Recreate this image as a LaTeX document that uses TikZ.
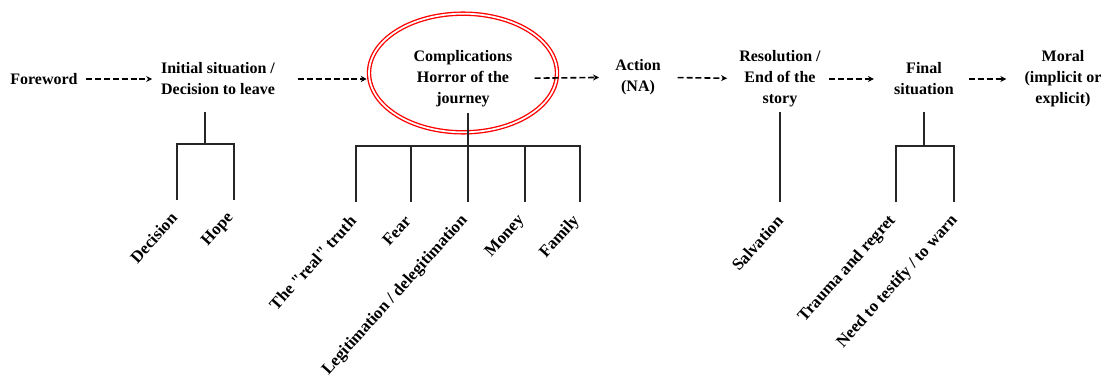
\documentclass[tikz,border=0pt]{standalone}
\usepackage{fontspec}
\setmainfont{Liberation Serif}
\usetikzlibrary{shapes.geometric, arrows.meta}

\begin{document}
\begin{tikzpicture}[x=0.75pt, y=-0.75pt,
        stage/.style={align=center, inner sep=0pt, font=\fontsize{12}{15.75}\selectfont\bfseries},
        leaf/.style={anchor=east, rotate=48, inner sep=0pt, font=\fontsize{12.6}{14}\selectfont\bfseries},
        ring/.style={ellipse, draw=red, double=white, double distance=1.3pt, line width=1pt, minimum width=141pt, minimum height=89pt},
        flow/.style={-{Stealth[length=4.5pt, width=4.5pt]}, dash pattern=on 4.5pt off 2.2pt, line width=1.2pt},
        branch/.style={line width=1.1pt, draw=black!85}]

    \useasboundingbox (0,0) rectangle (1117,385);

    % story stages
    \node (foreword) [stage] at (44,79) {Foreword};
    \node (initial) [stage] at (218,79) {Initial situation /\\ Decision to leave};
    \node (ring) [ring] at (463,73) {};
    \node (compl) [stage] at (463,79) {Complications\\ Horror of the\\ journey};
    \node (action) [stage] at (638,77) {Action\\ (NA)};
    \node (resol) [stage] at (780,79) {Resolution /\\ End of the\\ story};
    \node (final) [stage] at (924,79) {Final\\ situation};
    \node (moral) [stage] at (1063,79) {Moral\\ (implicit or\\ explicit)};

    \draw [flow, shorten <=6pt, shorten >=6.5pt] (foreword) -- (initial);
    \draw [flow, shorten <=17pt, shorten >=35pt] (initial) -- (compl);
    \draw [flow, shorten <=16.5pt, shorten >=12pt] (compl) -- (action);
    \draw [flow, shorten <=12.5pt, shorten >=9pt] (action) -- (resol);
    \draw [flow, shorten <=6pt, shorten >=15pt] (resol) -- (final);
    \draw [flow, shorten <=11pt, shorten >=13.5pt] (final) -- (moral);

    % tree under the initial situation
    \coordinate (initial-stem) at (205,112);
    \coordinate (initial-fork) at (205,144);
    \coordinate (decision-end) at (177,200);
    \coordinate (hope-end) at (234,200);
    \draw [branch] (initial-stem) -- (initial-fork);
    \draw [branch] (decision-end) |- (initial-fork) -| (hope-end);
    \node (decision) [leaf] at ([shift={(-3,15)}]decision-end) {Decision};
    \node (hope) [leaf] at ([shift={(-3,15)}]hope-end) {Hope};

    % tree under the complications
    \coordinate (compl-stem) at (468,113);
    \coordinate (compl-fork) at (468,146);
    \coordinate (truth-end) at (356,202);
    \coordinate (fear-end) at (411,202);
    \coordinate (legit-end) at (468,202);
    \coordinate (money-end) at (525,202);
    \coordinate (family-end) at (580,202);
    \draw [branch] (compl-stem) -- (legit-end);
    \draw [branch] (truth-end) |- (compl-fork) -| (family-end);
    \draw [branch] (fear-end) -- (fear-end |- compl-fork);
    \draw [branch] (money-end) -- (money-end |- compl-fork);
    \node (truth) [leaf] at ([shift={(-3,16)}]truth-end) {The \textquotedbl real\textquotedbl{} truth};
    \node (fear) [leaf] at ([shift={(-3,16)}]fear-end) {Fear};
    \node (legit) [leaf] at ([shift={(-3,16)}]legit-end) {Legitimation / delegitimation};
    \node (money) [leaf] at ([shift={(-3,16)}]money-end) {Money};
    \node (family) [leaf] at ([shift={(-3,16)}]family-end) {Family};

    % tree under the resolution
    \coordinate (resol-stem) at (780,112);
    \coordinate (salvation-end) at (780,202);
    \draw [branch] (resol-stem) -- (salvation-end);
    \node (salvation) [leaf] at ([shift={(0,16)}]salvation-end) {Salvation};

    % tree under the final situation
    \coordinate (final-stem) at (924,112);
    \coordinate (final-fork) at (924,146);
    \coordinate (trauma-end) at (896,202);
    \coordinate (testify-end) at (954,202);
    \draw [branch] (final-stem) -- (final-fork);
    \draw [branch] (trauma-end) |- (final-fork) -| (testify-end);
    \node (trauma) [leaf] at ([shift={(-3,16)}]trauma-end) {Trauma and regret};
    \node (testify) [leaf] at ([shift={(1,16)}]testify-end) {Need to testify / to warn};
\end{tikzpicture}
\end{document}
